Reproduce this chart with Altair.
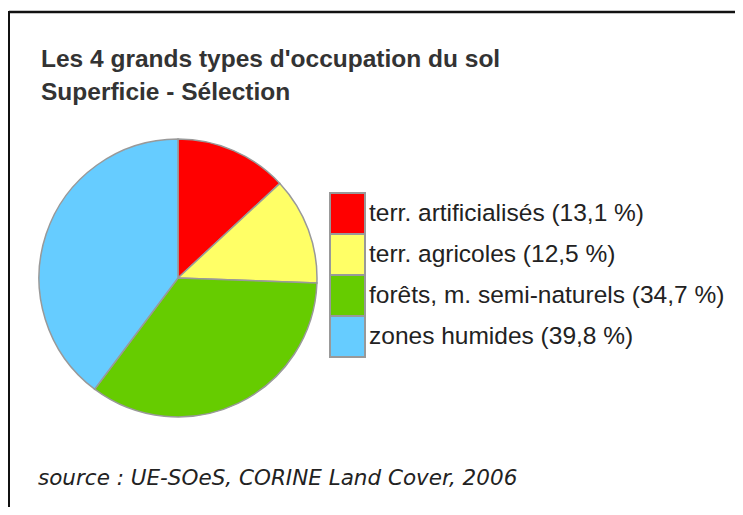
import altair as alt
import pandas as pd

categories = ["terr. artificialisés", "terr. agricoles", "forêts, m. semi-naturels", "zones humides"]
values = [13.1, 12.5, 34.7, 39.8]
colors = ["#FF0000", "#FFFF66", "#66CC00", "#66CCFF"]
title_lines = ["Les 4 grands types d'occupation du sol", "Superficie - Sélection"]
source_text = "source : UE-SOeS, CORINE Land Cover, 2006"

labels = [f"{c} ({str(v).replace('.', ',')} %)" for c, v in zip(categories, values)]
df = pd.DataFrame({"label": labels, "value": values, "idx": list(range(len(values)))})

W, H = 727, 499

color_scale = alt.Scale(domain=labels, range=colors)
legend_y = alt.Scale(domain=labels, range=[185, 349], paddingInner=0, paddingOuter=0)

pie = alt.Chart(df).mark_arc(radius=139, stroke="#999999", strokeWidth=1.5).encode(
    theta=alt.Theta("value:Q", stack=True),
    color=alt.Color("label:N", scale=color_scale, legend=None),
    order=alt.Order("idx:Q"),
    x=alt.value(170),
    y=alt.value(270),
)

legend_swatch = alt.Chart(df).mark_rect(stroke="#999999", strokeWidth=2).encode(
    y=alt.Y("label:N", scale=legend_y, axis=None, sort=labels),
    x=alt.value(322),
    x2=alt.value(357),
    color=alt.Color("label:N", scale=color_scale, legend=None),
)

legend_text = alt.Chart(df).mark_text(
    align="left", baseline="middle", font="Liberation Sans", fontSize=24.5, color="#222222"
).encode(
    y=alt.Y("label:N", scale=legend_y, axis=None, sort=labels, bandPosition=0.5),
    x=alt.value(361),
    text="label:N",
)

top_rule = alt.Chart(df.head(1)).mark_rule(stroke="#111111", strokeWidth=2.5).encode(
    x=alt.value(1), x2=alt.value(W + 8), y=alt.value(4)
)
left_rule = alt.Chart(df.head(1)).mark_rule(stroke="#111111", strokeWidth=2).encode(
    x=alt.value(1), y=alt.value(3), y2=alt.value(H + 8)
)

title1 = alt.Chart(pd.DataFrame({"t": [title_lines[0]]})).mark_text(
    align="left", baseline="alphabetic", font="Liberation Sans", fontWeight="bold",
    fontSize=24.5, color="#333333"
).encode(text="t:N", x=alt.value(33), y=alt.value(59))

title2 = alt.Chart(pd.DataFrame({"t": [title_lines[1]]})).mark_text(
    align="left", baseline="alphabetic", font="Liberation Sans", fontWeight="bold",
    fontSize=24.5, color="#333333"
).encode(text="t:N", x=alt.value(33), y=alt.value(92))

source = alt.Chart(pd.DataFrame({"t": [source_text]})).mark_text(
    align="left", baseline="alphabetic", font="DejaVu Sans", fontStyle="italic",
    fontSize=21.5, color="#222222"
).encode(text="t:N", x=alt.value(30), y=alt.value(477))

chart = alt.layer(
    top_rule, left_rule, pie, legend_swatch, legend_text, title1, title2, source
).properties(
    width=W, height=H, autosize=alt.AutoSizeParams(type="none"), padding=0,
    background="white",
).configure_view(strokeWidth=0)

chart.save("out.html", embed_options={"renderer": "svg", "actions": False})
